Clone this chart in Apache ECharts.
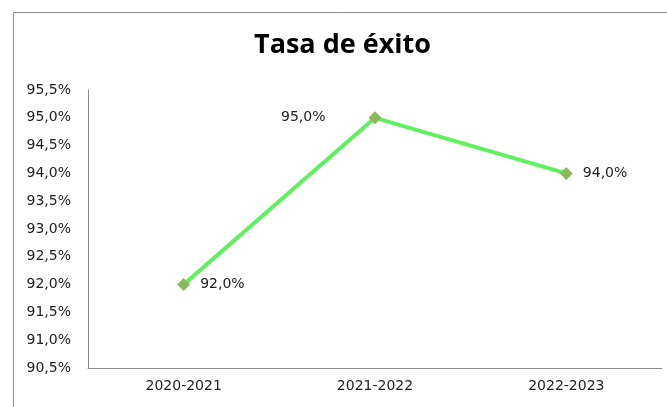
<!DOCTYPE html>
<html>
<head>
<meta charset="utf-8">
<script src="https://cdn.jsdelivr.net/npm/echarts@6/dist/echarts.min.js"></script>
<style>
  html, body { margin: 0; padding: 0; background: #fff; }
  #chart { width: 667px; height: 407px; }
</style>
</head>
<body>
<div id="chart"></div>
<script>
// datos
const categories = ['2020-2021', '2021-2022', '2022-2023'];
const tasaExito = [92.0, 95.0, 94.0];
const labelPos = ['right', 'left', 'right'];
const labelDist = [10, 43, 10];

const fmt = v => v.toFixed(1).replace('.', ',') + '%';

const myChart = echarts.init(document.getElementById('chart'));

const option = {
  backgroundColor: '#fff',
  animation: false,
  textStyle: { fontFamily: 'DejaVu Sans' },
  title: {
    text: 'Tasa de éxito',
    left: 254,
    top: 32,
    padding: 0,
    textStyle: {
      fontFamily: 'Open Sans',
      fontSize: 27,
      fontWeight: 'bold',
      color: '#000'
    }
  },
  graphic: [{
    type: 'rect',
    shape: { x: 13.5, y: 12.5, width: 700, height: 450 },
    style: { fill: 'none', stroke: '#8c8c8c', lineWidth: 1 },
    silent: true
  }],
  grid: {
    left: 88,
    right: 5,
    top: 90,
    bottom: 39
  },
  xAxis: {
    type: 'category',
    data: categories,
    boundaryGap: true,
    axisLine: { lineStyle: { color: '#8c8c8c', width: 1 } },
    axisTick: { show: false },
    axisLabel: { color: '#222', fontSize: 14, margin: 11 }
  },
  yAxis: {
    type: 'value',
    min: 90.5,
    max: 95.5,
    interval: 0.5,
    axisLine: { show: true, lineStyle: { color: '#8c8c8c', width: 1 } },
    axisTick: { show: false },
    splitLine: { show: false },
    axisLabel: {
      color: '#222',
      fontSize: 14,
      margin: 17,
      formatter: v => fmt(v)
    }
  },
  series: [{
    name: 'Tasa de éxito',
    type: 'line',
    data: tasaExito.map((v, i) => ({
      value: v,
      label: { position: labelPos[i], distance: labelDist[i] }
    })),
    symbol: 'diamond',
    symbolSize: 13,
    lineStyle: { color: '#5ef05e', width: 4 },
    itemStyle: { color: '#8db85a' },
    label: {
      show: true,
      color: '#222',
      fontSize: 14,
      formatter: p => fmt(p.value)
    }
  }]
};

myChart.setOption(option);
</script>
</body>
</html>
